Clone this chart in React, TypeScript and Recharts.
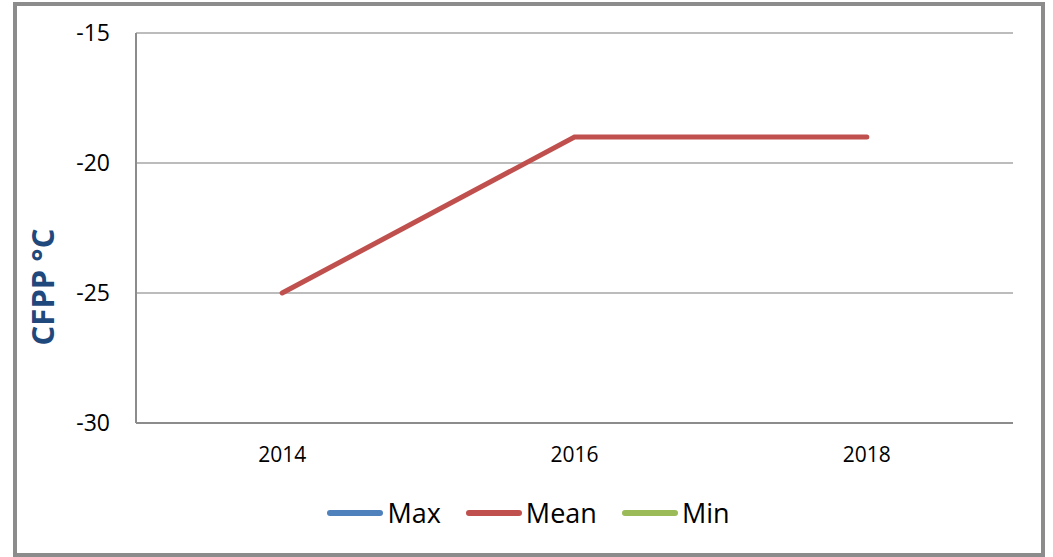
import { CartesianGrid, Legend, Line, LineChart, XAxis, YAxis } from 'recharts'

const years = ['2014', '2016', '2018']
const maxValues: (number | null)[] = [null, null, null]
const meanValues = [-25, -19, -19]
const minValues: (number | null)[] = [null, null, null]
const yTicks = [-30, -25, -20, -15]

const seriesColors = { Max: '#4F81BD', Mean: '#C0504D', Min: '#9BBB59' }
const font = '"Open Sans", "Liberation Sans", sans-serif'

const data = years.map((year, i) => ({
  year,
  Max: maxValues[i],
  Mean: meanValues[i],
  Min: minValues[i],
}))

function LegendRow({ payload }: any) {
  return (
    <div style={{ display: 'flex', justifyContent: 'center', alignItems: 'center', height: 30, paddingLeft: 44 }}>
      {(payload || []).map((item: any, i: number) => (
        <div key={item.value} style={{ display: 'flex', alignItems: 'center', marginLeft: i === 0 ? 0 : 25 }}>
          <span style={{ display: 'inline-block', width: 56, height: 6, borderRadius: 3, background: item.color }} />
          <span style={{ fontFamily: font, fontSize: 27, color: '#000', marginLeft: 4, lineHeight: '30px' }}>{item.value}</span>
        </div>
      ))}
    </div>
  )
}

function AxisTitle() {
  return (
    <text
      x={42}
      y={287}
      transform="rotate(-90 42 287)"
      textAnchor="middle"
      dominantBaseline="central"
      style={{ fontFamily: font, fontWeight: 700, fontSize: 31 }}
      fill="#1F497D"
    >
      CFPP °C
    </text>
  )
}

export default function App() {
  return (
    <div style={{ position: 'fixed', left: 0, top: 0, width: 1053, height: 557, background: '#fff' }}>
      <div
        style={{
          position: 'absolute',
          left: 13,
          top: 2,
          width: 1032,
          height: 555,
          border: '4px solid #8c8c8c',
          boxSizing: 'border-box',
        }}
      />
      <div style={{ position: 'absolute', left: 0, top: 0 }}>
        <LineChart width={1053} height={557} data={data} margin={{ top: 33, right: 40, left: 0, bottom: 29 }}>
          <CartesianGrid vertical={false} stroke="#a6a6a6" strokeWidth={1.5} />
          <XAxis
            dataKey="year"
            scale="band"
            height={75}
            tickLine={false}
            tickSize={6}
            tickMargin={18}
            axisLine={{ stroke: '#8c8c8c', strokeWidth: 2 }}
            tick={{ fontFamily: font, fontSize: 21, fill: '#000' }}
          />
          <YAxis
            width={136}
            domain={[-30, -15]}
            ticks={yTicks}
            interval={0}
            tickLine={false}
            tickSize={6}
            tickMargin={20}
            axisLine={{ stroke: '#8c8c8c', strokeWidth: 2 }}
            tick={{ fontFamily: font, fontSize: 23, fill: '#000' }}
            label={<AxisTitle />}
          />
          <Legend verticalAlign="bottom" wrapperStyle={{ height: 30 }} content={<LegendRow />} />
          <Line dataKey="Max" stroke={seriesColors.Max} strokeWidth={5} dot={false} isAnimationActive={false} />
          <Line dataKey="Mean" stroke={seriesColors.Mean} strokeWidth={5} strokeLinecap="round" dot={false} isAnimationActive={false} />
          <Line dataKey="Min" stroke={seriesColors.Min} strokeWidth={5} dot={false} isAnimationActive={false} />
        </LineChart>
      </div>
    </div>
  )
}
